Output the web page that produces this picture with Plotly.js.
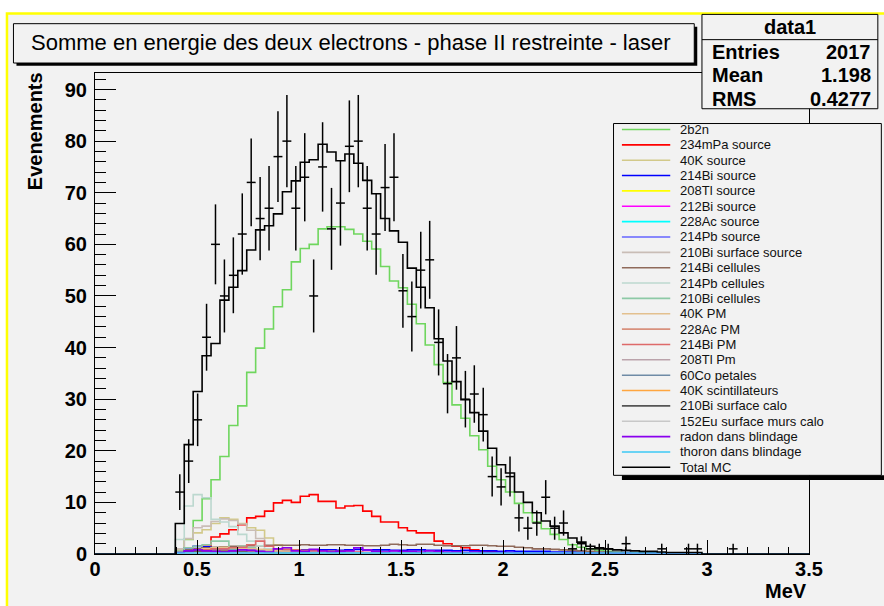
<!DOCTYPE html>
<html><head><meta charset="utf-8">
<script src="https://cdn.plot.ly/plotly-3.0.1.min.js"></script>
<style>html,body{margin:0;padding:0;background:#fff;}#chart{width:884px;height:606px;}</style>
</head><body><div id="chart"></div>
<script>
// ---- binning (ROOT histogram: 80 bins from 0 to 3.5 MeV) ----
const X_MIN = 0, X_MAX = 3.5, N_BINS = 80;
const FIRST_BIN = 9; // arrays below start at bin index 9

// ---- data points (counts per bin, from bin 9) ----
const dataCounts = [12,18,26,42,60,50,54,62,72,65,67,77,80,67,73,50,75,63,68,79,80,67,62,71,73,51,46,55,57,41,33,38,30,31,27,15,13,15,7,5,6,11,5,6,1,2,1,1,1,0,2,0,0,0,1,0,0,1,1,0,0,0,1];

// ---- MC components (from bin 9) ----
const s_2b2n = [0.7,2.8,6.5,10.7,14.4,18.9,24.9,28.7,35.2,39.9,43.6,47.9,51.2,56.6,59.2,60.0,63.0,63.4,63.4,62.9,62.0,60.6,59.1,55.7,52.9,51.6,48.4,44.6,40.5,36.7,33.2,28.9,26.3,22.9,20.2,17.0,14.4,12.0,9.8,8.0,6.2,4.9,3.8,2.8,1.8,1.3,1.0,0.7,0.5,0.4,0.3,0.2,0.2,0.1,0.1];
const s_234mPa = [0,0.3,0.6,1.5,3.3,3.9,4.7,5.7,7.0,7.3,8.3,9.9,10.4,10.0,11.2,11.5,10.2,10.2,8.9,9.3,9.4,8.3,7.3,6.2,6.2,5.1,4.5,4.1,4.1,2.5,2.0,1.5,1.2,0.8,0.6,0.5,0.3,0.2,0.2,0.1,0.1];
const s_40Ksrc = [0.8,2.9,4.1,4.7,5.9,7.0,6.7,5.9,5.1,4.6,3.1,1.8,1.2,0.8,0.5,0.3,0.2,0.1];
const s_214Bisrc = [0.3,1.2,1.5,1.4,1.2,1.0,0.9,0.9,0.8,0.8,0.9,0.8,0.8,0.8,0.8,0.7,0.8,0.8,0.7,0.8,0.9,0.8,0.8,0.8,0.7,0.7,0.8,0.8,0.7,0.7,0.7,0.6,0.7,0.6,0.6,0.6,0.5,0.6,0.5,0.5,0.5,0.5,0.4,0.4,0.4,0.4,0.3,0.3,0.3,0.3,0.3,0.2,0.2,0.2,0.2,0.2,0.1,0.1,0.1];
const s_208Tlsrc = [0,0.1,0.1,0.1,0.1,0.1,0.1,0.1,0.1,0.1,0.1,0.1,0.1,0.1,0.1,0.1,0.1,0.1,0.1,0.1,0.1,0.1,0.1,0.1,0.1,0.1,0.1,0.1,0.1,0.1,0.1,0.1,0.1,0.1,0.1,0.1,0.1,0.1,0.1,0.1];
const s_212Bisrc = [0.1,0.3,0.4,0.4,0.3,0.3,0.4,0.3,0.3,0.4,0.3,0.3,0.3,0.3,0.4,0.3,0.3,0.3,0.3,0.3,0.3,0.3,0.3,0.3,0.3,0.3,0.2,0.3,0.2,0.2,0.2,0.2,0.2,0.2,0.2,0.2,0.2,0.2,0.2,0.1,0.1,0.1,0.1,0.1,0.1,0.1,0.1,0.1,0.1,0.1];
const s_228Acsrc = [0.1,0.2,0.2,0.2,0.2,0.2,0.2,0.2,0.2,0.2,0.2,0.2,0.2,0.2,0.2,0.2,0.2,0.2,0.2,0.2,0.2,0.2,0.2,0.2,0.2,0.2,0.2,0.2,0.2,0.2,0.1,0.1,0.1,0.1,0.1,0.1,0.1,0.1,0.1,0.1];
const s_214Pbsrc = [0.2,0.9,1.1,1.0,0.9,0.8,0.7,0.6,0.6,0.5,0.5,0.4,0.4,0.3,0.3,0.3,0.2,0.2,0.2,0.2,0.1,0.1,0.1,0.1,0.1];
const s_210Biss = [1.0,3.0,5.1,5.4,6.3,6.8,6.5,5.8,4.6,3.0,1.5,0.8,0.5,0.3,0.2,0.1];
const s_214Bicel = [0.3,0.8,1.0,1.2,1.3,1.4,1.5,1.5,1.6,1.6,1.7,1.7,1.7,1.7,1.8,1.7,1.7,1.8,1.8,1.7,1.7,1.6,1.6,1.7,1.9,1.8,1.7,1.9,1.9,1.7,1.6,1.6,1.6,1.7,1.7,1.6,1.5,1.5,1.3,1.2,1.0,1.0,0.9,0.8,0.7,0.6,0.5,0.4,0.3,0.3,0.2,0.2,0.2,0.1,0.1,0.1,0.1,0.1,0.1];
const s_214Pbcel = [2.8,9.3,11.5,10.9,6.7,6.2,5.3,3.8,2.5,1.6,1.0,0.7,0.5,0.4,0.3,0.2,0.1];
const s_210Bicel = [0.5,1.2,1.5,1.8,2.5,2.5,1.0,1.5,1.2,0.8,0.5,0.3,0.2,0.1];
const s_40KPM = [0.2,0.5,0.8,1.0,1.2,1.3,1.2,1.1,1.0,0.9,0.8,0.6,0.5,0.4,0.3,0.2,0.2,0.1];
const s_228AcPM = [0.1,0.3,0.4,0.5,0.5,0.6,0.6,0.5,0.5,0.4,0.4,0.3,0.3,0.3,0.2,0.2,0.2,0.1,0.1,0.1];
const s_214BiPM = [0.2,0.5,0.6,0.8,1.0,1.0,1.2,1.3,1.8,2.5,1.5,1.0,0.9,0.8,0.7,0.6,0.6,0.5,0.5,0.4,0.4,0.3,0.3,0.3,0.2,0.2,0.2,0.2,0.1,0.1,0.1];
const s_208TlPM = [0.1,0.2,0.3,0.3,0.3,0.3,0.3,0.3,0.3,0.3,0.3,0.3,0.3,0.3,0.3,0.3,0.3,0.2,0.2,0.2,0.2,0.2,0.2,0.2,0.2,0.2,0.2,0.2,0.2,0.2,0.1,0.1,0.1,0.1,0.1,0.1,0.1,0.1,0.1,0.1];
const s_60Co = [0.1,0.2,0.2,0.2,0.2,0.2,0.2,0.2,0.2,0.2,0.2,0.2,0.2,0.2,0.2,0.2,0.2,0.2,0.2,0.2,0.2,0.2,0.2,0.2,0.2,0.2,0.2,0.2,0.2,0.2,0.2,0.2,0.1,0.1,0.1,0.1,0.1,0.1,0.1,0.1,0.1,0.1,0.1,0.1,0.1];
const s_40Kscint = [0.1,0.2,0.2,0.2,0.2,0.2,0.2,0.2,0.2,0.2,0.2,0.2,0.2,0.1,0.1,0.1,0.1,0.1,0.1,0.1,0.1,0.1,0.1,0.1,0.1,0.1,0.1,0.1,0.1,0.1];
const s_210Bicalo = [0.2,0.5,0.6,0.6,0.5,0.5,0.4,0.4,0.3,0.3,0.2,0.2,0.2,0.1,0.1];
const s_152Eu = [0.1,0.2,0.2,0.2,0.2,0.2,0.2,0.2,0.2,0.2,0.2,0.2,0.2,0.2,0.2,0.2,0.2,0.2,0.2,0.2,0.2,0.2,0.2,0.2,0.2,0.1,0.1,0.1,0.1,0.1,0.1,0.1,0.1,0.1,0.1,0.1,0.1,0.1,0.1,0.1];
const s_radon = [0.3,0.6,0.8,0.6,0.5,0.4,0.6,0.8,0.7,0.5,0.4,1.0,1.2,0.6,0.5,0.9,0.6,0.4,0.5,0.6,1.2,0.8,0.5,0.4,0.6,0.5,0.5,0.4,0.6,0.5,0.4,0.4,0.3,0.4,0.3,0.3,0.3,0.3,0.2,0.2,0.2,0.2,0.2,0.1,0.1,0.1,0.1,0.1,0.1,0.1,0.1];
const s_thoron = [0.2,0.2,0.2,0.2,0.2,0.2,0.2,0.2,0.2,0.2,0.2,0.2,0.2,0.2,0.2,0.2,0.2,0.2,0.2,0.2,0.2,0.2,0.2,0.2,0.2,0.2,0.2,0.2,0.2,0.2,0.2,0.2,0.2,0.2,0.2,0.2,0.2,0.2,0.2,0.2,0.2,0.2,0.2,0.2,0.2,0.2,0.2,0.2,0.2,0.2,0.2,0.2,0.2,0.2,0.2,0.2,0.2,0.2,0.2];
const s_totalMC = [5.9,21.2,31.5,38.4,40.8,49.2,51.7,54.9,58.9,62.8,63.6,65.9,70.2,72.3,75.9,76.4,79.4,77.9,76.2,77.5,75.7,72.4,69.8,65.0,62.6,60.4,55.4,51.7,47.7,41.7,37.4,33.4,29.9,27.4,23.8,20.5,17.3,15.7,12.0,10.0,8.0,6.4,5.4,4.1,3.1,2.3,1.5,1.2,1.0,0.8,0.7,0.6,0.5,0.5,0.4,0.3,0.3,0.3,0.3];

const seriesNames = ["2b2n","234mPa source","40K source","214Bi source","208Tl source","212Bi source","228Ac source","214Pb source","210Bi surface source","214Bi cellules","214Pb cellules","210Bi cellules","40K PM","228Ac PM","214Bi PM","208Tl Pm","60Co petales","40K scintillateurs","210Bi surface calo","152Eu surface murs calo","radon dans blindage","thoron dans blindage","Total MC"];
const seriesColors = ["#6fd65e","#ff0000","#d2c98a","#0000ff","#ffff00","#ff00ff","#00ffff","#6464ff","#c9bdb6","#8f6a5a","#bcd8cf","#8dc9a6","#e3c08e","#d8917d","#de6a6a","#bba3ab","#6f8ba6","#ffa640","#555555","#c8c8c8","#8a00ee","#3cc8f5","#000000"];
const seriesValues = [s_2b2n,s_234mPa,s_40Ksrc,s_214Bisrc,s_208Tlsrc,s_212Bisrc,s_228Acsrc,s_214Pbsrc,s_210Biss,s_214Bicel,s_214Pbcel,s_210Bicel,s_40KPM,s_228AcPM,s_214BiPM,s_208TlPM,s_60Co,s_40Kscint,s_210Bicalo,s_152Eu,s_radon,s_thoron,s_totalMC];

const statsTitle = "data1";
const statsLabels = ["Entries","Mean","RMS"];
const statsValues = ["2017","1.198","0.4277"];
const chartTitle = "Somme en energie des deux electrons - phase II restreinte - laser";
const xTitle = "MeV", yTitle = "Evenements";

// ---- helpers ----
const bw = (X_MAX - X_MIN) / N_BINS;
function fullBins(arr){ const out = new Array(N_BINS).fill(0); arr.forEach((v,i)=>{ if (FIRST_BIN+i < N_BINS) out[FIRST_BIN+i]=v; }); return out; }
const edges = Array.from({length:N_BINS+1},(_,i)=>X_MIN+i*bw);

const traces = [];
seriesValues.forEach((arr, si) => {
  const full = fullBins(arr);
  traces.push({type:'scatter', mode:'lines', x: edges, y: full.concat([full[N_BINS-1]]),
    line:{shape:'hv', color: seriesColors[si], width: 1.6}, hoverinfo:'skip', showlegend:false});
});
const dx = [], dy = [];
dataCounts.forEach((v,i)=>{ if (v>0){ dx.push(X_MIN+(FIRST_BIN+i+0.5)*bw); dy.push(v);} });
traces.push({type:'scatter', mode:'markers', x: dx, y: dy, marker:{size:1,color:'rgba(0,0,0,0)'},
  error_y:{type:'sqrt', color:'#000', thickness:1.5, width:0},
  error_x:{type:'constant', value:bw/2, color:'#000', thickness:1.5, width:0}, showlegend:false, hoverinfo:'skip'});

// ---- pixel geometry ----
const W=884, H=606, L=95, R=808.7, T=72.7, B=554.5;
const px = p => (p-L)/(R-L), py = p => (B-p)/(B-T);
const FONT = "Liberation Sans, Arial, Helvetica, sans-serif";
const BOLD = {family:FONT, size:20, weight:'bold', color:'#000'};

const shapes = [];
const ann = [];
// canvas with yellow border
shapes.push({type:'rect', xref:'paper', yref:'paper', x0:px(7), x1:px(960), y0:py(13), y1:py(700), fillcolor:'#f2f2f2', line:{color:'#ffff00', width:2.5}, layer:'below'});
// title box
shapes.push({type:'rect', xref:'paper', yref:'paper', x0:px(16.5), x1:px(697), y0:py(26.3), y1:py(65.5), fillcolor:'#000', line:{width:0}, layer:'above'});
shapes.push({type:'rect', xref:'paper', yref:'paper', x0:px(13.5), x1:px(694), y0:py(23.3), y1:py(62.7), fillcolor:'#f2f2f2', line:{color:'#000', width:1}, layer:'above'});
ann.push({xref:'paper', yref:'paper', x:px(351), y:py(42.5), xanchor:'center', yanchor:'middle', text:chartTitle, showarrow:false, font:{family:FONT, size:22, color:'#000'}});
// stats box
shapes.push({type:'rect', xref:'paper', yref:'paper', x0:px(701.7), x1:px(877.5), y0:py(14), y1:py(108.5), fillcolor:'#f2f2f2', line:{color:'#000', width:1}, layer:'above'});
shapes.push({type:'line', xref:'paper', yref:'paper', x0:px(701.7), x1:px(877.5), y0:py(39.3), y1:py(39.3), line:{color:'#000', width:1}, layer:'above'});
ann.push({xref:'paper', yref:'paper', x:px(789.6), y:py(27), xanchor:'center', yanchor:'middle', text:statsTitle, showarrow:false, font:BOLD});
statsLabels.forEach((lab,i)=>{
  const yy = 51.5 + i*23.5;
  ann.push({xref:'paper', yref:'paper', x:px(710), y:py(yy), xanchor:'left', yanchor:'middle', text:lab, showarrow:false, font:BOLD});
  ann.push({xref:'paper', yref:'paper', x:px(873), y:py(yy), xanchor:'right', yanchor:'middle', text:statsValues[i], showarrow:false, font:BOLD});
});
// legend box
shapes.push({type:'rect', xref:'paper', yref:'paper', x0:px(621.7), x1:px(960), y0:py(475.7), y1:py(480.5), fillcolor:'#000', line:{width:0}, layer:'above'});
shapes.push({type:'rect', xref:'paper', yref:'paper', x0:px(613.3), x1:px(881), y0:py(123.3), y1:py(475.7), fillcolor:'#f2f2f2', line:{color:'#000', width:1}, layer:'above'});
seriesNames.forEach((nm,i)=>{
  const yy = 129.3 + i*15.38;
  shapes.push({type:'line', xref:'paper', yref:'paper', x0:px(621.7), x1:px(670), y0:py(yy), y1:py(yy), line:{color:seriesColors[i], width:1.6}, layer:'above'});
  ann.push({xref:'paper', yref:'paper', x:px(678), y:py(yy), xanchor:'left', yanchor:'middle', text:nm, showarrow:false, font:{family:FONT, size:13, color:'#111'}});
});
// axis titles
ann.push({xref:'paper', yref:'paper', x:px(35), y:py(131), xanchor:'center', yanchor:'middle', text:yTitle, textangle:-90, showarrow:false, font:BOLD});
ann.push({xref:'paper', yref:'paper', x:1, y:py(591.5), xanchor:'right', yanchor:'middle', text:xTitle, showarrow:false, font:BOLD});

const layout = {
  width:W, height:H, paper_bgcolor:'#ffffff', plot_bgcolor:'rgba(0,0,0,0)',
  margin:{l:L, r:W-R, t:T, b:H-B, pad:0},
  showlegend:false,
  xaxis:{range:[X_MIN,X_MAX], dtick:0.5, tick0:0, ticks:'inside', ticklen:14.5, tickwidth:1, tickcolor:'#000',
    minor:{dtick:0.1, ticks:'inside', ticklen:7.5, tickwidth:1, tickcolor:'#000'},
    showline:true, mirror:true, linecolor:'#000', linewidth:1, showgrid:false, zeroline:false,
    tickfont:BOLD, ticklabelstandoff:-3},
  yaxis:{range:[0,93.2], dtick:10, tick0:0, ticks:'inside', ticklen:21, tickwidth:1, tickcolor:'#000',
    minor:{dtick:2, ticks:'inside', ticklen:11, tickwidth:1, tickcolor:'#000'},
    showline:true, mirror:true, linecolor:'#000', linewidth:1, showgrid:false, zeroline:false,
    tickfont:BOLD, ticklabelstandoff:3},
  shapes:shapes, annotations:ann
};
Plotly.newPlot('chart', traces, layout, {staticPlot:true});
</script></body></html>
